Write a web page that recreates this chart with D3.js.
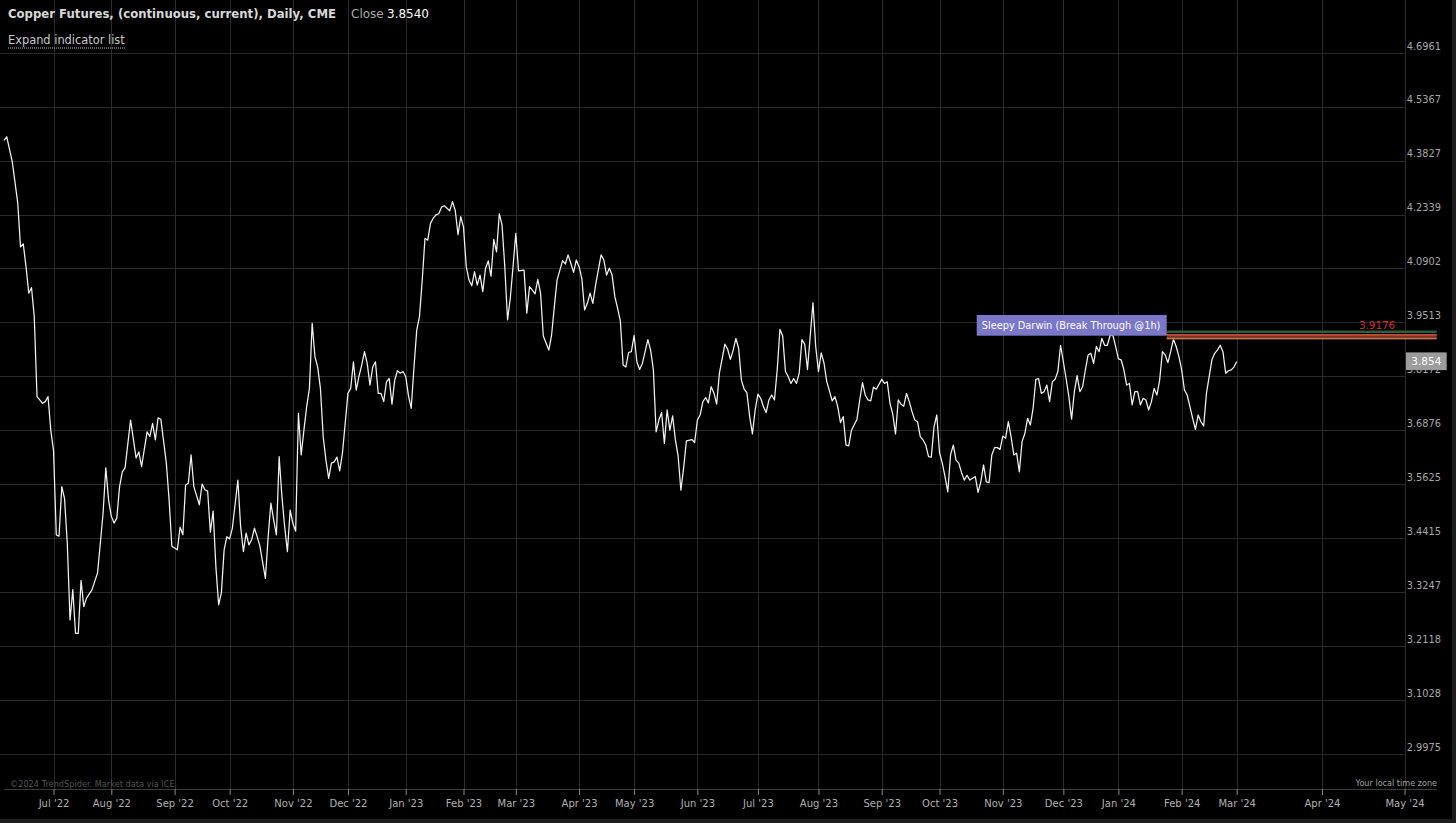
<!DOCTYPE html>
<html><head><meta charset="utf-8">
<script src="https://cdn.jsdelivr.net/npm/d3@7"></script>
<style>
html,body{margin:0;padding:0;background:#000;overflow:hidden}
svg{display:block}
text{font-family:"DejaVu Sans",sans-serif}
</style></head><body>
<script>
// Trading-session number (from first visible session) and daily close
const sessionDay = [0,1,3,5,6,7,8,9,10,11,12,13,14,15,16,17,18,19,20,21,22,23,24,25,26,27,28,29,30,32,34,35,36,37,38,39,40,41,42,43,44,46,48,49,50,52,53,54,55,56,57,59,60,61,63,64,65,66,67,68,69,71,72,73,74,75,76,77,78,79,80,81,82,83,85,86,87,88,89,90,91,92,93,95,96,97,98,99,
100,101,102,103,104,105,106,107,108,109,110,111,112,113,114,115,116,117,118,119,120,121,122,123,125,126,127,128,129,130,131,132,133,134,135,136,137,138,139,140,141,142,143,144,145,146,147,148,149,
150,151,152,153,154,155,156,157,158,159,160,161,162,163,164,165,166,167,168,169,170,171,172,173,174,175,176,177,178,179,180,181,182,183,184,185,186,187,189,190,191,192,193,194,195,196,198,199,
200,201,203,204,205,206,207,208,209,210,211,212,213,214,215,217,218,219,220,221,222,223,224,225,226,227,228,229,230,231,232,234,235,236,237,238,239,240,241,242,243,244,245,246,247,248,250,251,252,253,
254,255,256,257,258,259,260,262,263,264,265,266,267,268,269,270,271,272,273,274,275,276,277,278,279,280,281,282,283,284,285,286,287,288,289,290,291,292,294,295,296,297,298,299,301,302,303,304,305,306,307,308,310,311,312,313,314,315,316,317,319,
320,321,322,323,324,325,326,327,328,329,330,331,332,333,334,335,336,337,338,339,340,341,342,343,344,345,346,347,348,349,350,351,352,353,354,355,356,357,358,359,360,361,362,363,364,365,366,367,368,369,370,371,372,373,374,
375,376,377,378,379,380,381,382,383,384,386,387,388,389,390,391,392,393,394,395,396,397,398,399,400,401,402,403,404,405,406,407,408,409,410,411,412,413,414,415,416,417,418,419,420,421,422,423,424,425,426,427,428,429,430,431,432,433,434,435,436,437,439,440,441,442,443,444,445,446,447,448];
const close = [4.44,4.45,4.38,4.265,4.147,4.155,4.095,4.026,4.04,3.966,3.768,3.76,3.752,3.756,3.768,3.688,3.64,3.449,3.446,3.557,3.53,3.43,3.266,3.33,3.238,3.238,3.35,3.294,3.312,3.33,3.366,3.43,3.497,3.60,3.527,3.49,3.475,3.486,3.557,3.591,3.60,3.712,3.623,3.637,3.603,3.684,3.673,3.704,3.665,3.717,3.714,3.611,3.527,3.424,3.416,3.466,3.449,3.561,3.565,3.63,3.557,3.516,3.563,3.55,3.547,3.455,3.502,3.38,3.298,3.323,3.416,3.445,3.44,3.464,3.572,3.467,3.412,3.453,3.427,3.438,3.464,3.445,3.424,3.354,3.445,3.52,3.482,3.449,
3.626,3.535,3.467,3.412,3.504,3.474,3.457,3.728,3.63,3.688,3.744,3.788,3.949,3.866,3.84,3.788,3.673,3.618,3.576,3.611,3.614,3.625,3.593,3.634,3.776,3.788,3.853,3.784,3.817,3.845,3.878,3.849,3.796,3.84,3.853,3.776,3.776,3.756,3.804,3.812,3.75,3.808,3.831,3.825,3.829,3.817,3.77,3.74,3.84,
3.932,3.966,4.06,4.17,4.165,4.21,4.224,4.233,4.236,4.254,4.258,4.251,4.244,4.269,4.245,4.18,4.228,4.20,4.095,4.06,4.045,4.082,4.047,4.073,4.03,4.091,4.11,4.07,4.167,4.134,4.236,4.206,4.095,3.958,4.013,4.095,4.183,4.084,4.086,3.975,4.043,4.034,4.024,4.062,4.026,3.917,3.882,3.919,
3.991,4.06,4.111,4.102,4.126,4.104,4.08,4.1125,4.095,4.064,3.983,4.0,4.026,4.0,4.047,4.126,4.1125,4.073,4.091,4.073,4.017,3.987,3.955,3.845,3.84,3.876,3.878,3.919,3.853,3.834,3.849,3.908,3.882,3.833,3.684,3.712,3.73,3.657,3.736,3.688,3.722,3.665,3.627,3.549,3.60,3.663,3.666,3.659,3.712,3.724,
3.756,3.766,3.753,3.792,3.777,3.75,3.825,3.897,3.884,3.859,3.882,3.911,3.886,3.808,3.786,3.777,3.72,3.679,3.736,3.774,3.764,3.744,3.73,3.76,3.772,3.76,3.833,3.934,3.917,3.829,3.817,3.80,3.812,3.80,3.825,3.908,3.897,3.834,4.0015,3.891,3.829,3.875,3.85,3.805,3.758,3.768,3.744,3.706,3.72,3.653,3.651,3.688,3.714,3.76,3.802,3.772,3.76,3.758,3.791,3.786,3.81,
3.80,3.804,3.752,3.726,3.679,3.76,3.75,3.745,3.776,3.756,3.732,3.712,3.708,3.673,3.665,3.653,3.626,3.625,3.696,3.724,3.635,3.611,3.58,3.545,3.63,3.653,3.618,3.611,3.589,3.572,3.583,3.572,3.576,3.58,3.544,3.568,3.607,3.568,3.566,3.63,3.647,3.647,3.643,3.674,3.669,3.708,3.673,3.63,3.634,3.591,3.661,3.68,3.716,3.70,3.74,
3.81,3.812,3.776,3.78,3.796,3.756,3.804,3.81,3.829,3.894,3.812,3.768,3.714,3.78,3.819,3.78,3.792,3.833,3.87,3.874,3.849,3.891,3.878,3.911,3.894,3.894,3.919,3.919,3.891,3.86,3.858,3.833,3.796,3.80,3.748,3.78,3.78,3.748,3.764,3.76,3.736,3.756,3.788,3.772,3.808,3.878,3.87,3.851,3.878,3.909,3.891,3.866,3.833,3.784,3.772,3.744,3.716,3.69,3.724,3.708,3.698,3.776,3.858,3.874,3.882,3.894,3.878,3.825,3.831,3.833,3.84,3.854];

const priceTicks = [4.6961,4.5367,4.3827,4.2339,4.0902,3.9513,3.8172,3.6876,3.5625,3.4415,3.3247,3.2118,3.1028,2.9975];
const monthLabels = ["Jul '22","Aug '22","Sep '22","Oct '22","Nov '22","Dec '22","Jan '23","Feb '23","Mar '23","Apr '23","May '23","Jun '23","Jul '23","Aug '23","Sep '23","Oct '23","Nov '23","Dec '23","Jan '24","Feb '24","Mar '24","Apr '24","May '24"];
const monthDay = [18,39,62,82,105,125,146,167,186,209,229,252,274,296,319,340,363,385,405,428,448,479,509];

const alertName = "Sleepy Darwin (Break Through @1h)";
const alertLevel = 3.9176;
const alertUpper = 3.928;
const alertStartDay = 428;
const lastClose = 3.854;

const W = 1456, H = 823;
const svg = d3.select("body").append("svg").attr("width", W).attr("height", H);
svg.append("rect").attr("width", W).attr("height", H).attr("fill", "#000");

const x = d3.scaleLinear().domain([0, 448]).range([4, 1236.7]);
const y = d3.scaleLog().domain([2.9975, 4.6961]).range([754, 52.7]);

const grid = svg.append("g");
grid.selectAll("line.h").data(priceTicks).join("line")
  .attr("x1", 0).attr("x2", 1405)
  .attr("y1", d => Math.round(y(d)) + 0.5).attr("y2", d => Math.round(y(d)) + 0.5)
  .attr("stroke", "#2a2a2a").attr("stroke-width", 1);
grid.selectAll("line.v").data(monthDay).join("line")
  .attr("x1", d => Math.round(x(d)) + 0.5).attr("x2", d => Math.round(x(d)) + 0.5)
  .attr("y1", 0).attr("y2", 789)
  .attr("stroke", "#2a2a2a").attr("stroke-width", 1);

// price line
const pts = sessionDay.map((d, i) => [d, close[i]]);
svg.append("path").datum(pts)
  .attr("fill", "none").attr("stroke", "#f2f2f2").attr("stroke-width", 1.25)
  .attr("stroke-linejoin", "round")
  .attr("d", d3.line().x(d => x(d[0])).y(d => y(d[1])));

// alert lines
const ax0 = x(alertStartDay) - 15, ax1 = 1436.7;
svg.append("line").attr("x1", ax0).attr("x2", ax1)
  .attr("y1", y(alertUpper)).attr("y2", y(alertUpper))
  .attr("stroke", "#2d5e37").attr("stroke-width", 2.4);
svg.append("rect").attr("x", ax0).attr("width", ax1 - ax0)
  .attr("y", y(alertLevel) - 1.8).attr("height", 5.3).attr("fill", "#6e3424");
svg.append("line").attr("x1", ax0).attr("x2", ax1)
  .attr("y1", y(alertLevel) - 0.9).attr("y2", y(alertLevel) - 0.9)
  .attr("stroke", "#c04c3a").attr("stroke-width", 1.8);
svg.append("line").attr("x1", ax0).attr("x2", ax1)
  .attr("y1", y(alertLevel) + 2.6).attr("y2", y(alertLevel) + 2.6)
  .attr("stroke", "#cc7040").attr("stroke-width", 1.6);
svg.append("text").attr("x", 1359).attr("y", y(alertLevel) - 6.5)
  .attr("font-size", 10.3).attr("fill", "#d42a2a").text(alertLevel.toFixed(4));

// alert label box
const bx = 976.7, bw = 190;
svg.append("rect").attr("x", bx).attr("y", 315).attr("width", bw).attr("height", 20.7)
  .attr("fill", "#7a76c8");
svg.append("text").attr("x", bx + 5).attr("y", 329.3)
  .attr("font-size", 9.8).attr("fill", "#fff").text(alertName);

// right axis
const ra = svg.append("g").attr("transform", "translate(1406,0)")
  .call(d3.axisRight(y).tickValues(priceTicks).tickFormat(d3.format(".4f")).tickSize(0).tickPadding(0.7));
ra.select(".domain").remove();
ra.selectAll("text").attr("dy", -3.7).attr("fill", "#a8a8a8")
  .attr("font-size", 9.8).attr("font-family", "DejaVu Sans");

// last price tag (covers the neighbouring axis label, as in the original)
svg.append("rect").attr("x", 1406).attr("y", y(lastClose) - 9).attr("width", 40.7).attr("height", 17.7)
  .attr("fill", "#9c9c9c");
svg.append("text").attr("x", 1426.3).attr("y", y(lastClose) + 4).attr("text-anchor", "middle")
  .attr("font-size", 10.5).attr("fill", "#fff").text(lastClose.toFixed(3));

// bottom axis
svg.append("line").attr("x1", 4).attr("x2", 1437).attr("y1", 789.5).attr("y2", 789.5)
  .attr("stroke", "#3a3a3a");
const ba = svg.append("g").attr("transform", "translate(0,789)")
  .call(d3.axisBottom(x).tickValues(monthDay).tickFormat((d, i) => monthLabels[i]).tickSize(6).tickPadding(4.4));
ba.select(".domain").remove();
ba.selectAll("line").attr("stroke", "#8a8a8a");
ba.selectAll("text").attr("fill", "#b0b0b0").attr("font-size", 10).attr("font-family", "DejaVu Sans");

svg.append("text").attr("x", 10).attr("y", 787).attr("font-size", 8.2).attr("fill", "#555")
  .text("©2024 TrendSpider. Market data via ICE.");
svg.append("text").attr("x", 1437).attr("y", 786).attr("text-anchor", "end").attr("font-size", 8.1)
  .attr("fill", "#a0a0a0").text("Your local time zone");

// header
svg.append("text").attr("x", 8).attr("y", 18.3).attr("font-size", 11.7).attr("font-weight", "bold")
  .attr("fill", "#d8d8d8").text("Copper Futures, (continuous, current), Daily, CME");
svg.append("text").attr("x", 351).attr("y", 18.3).attr("font-size", 12).attr("fill", "#a8a8a8").text("Close");
svg.append("text").attr("x", 387).attr("y", 18.3).attr("font-size", 12).attr("fill", "#fff").text("3.8540");
svg.append("text").attr("x", 8).attr("y", 44).attr("font-size", 11.4).attr("fill", "#c8c8c8").text("Expand indicator list");
svg.append("line").attr("x1", 8).attr("x2", 125).attr("y1", 48).attr("y2", 48)
  .attr("stroke", "#bbb").attr("stroke-dasharray", "1,1");

// frame
svg.append("rect").attr("x", 1452).attr("y", 0).attr("width", 4).attr("height", H).attr("fill", "#1c1c1c");
svg.append("rect").attr("x", 0).attr("y", 819).attr("width", W).attr("height", 4).attr("fill", "#1c1c1c");
</script>
</body></html>
